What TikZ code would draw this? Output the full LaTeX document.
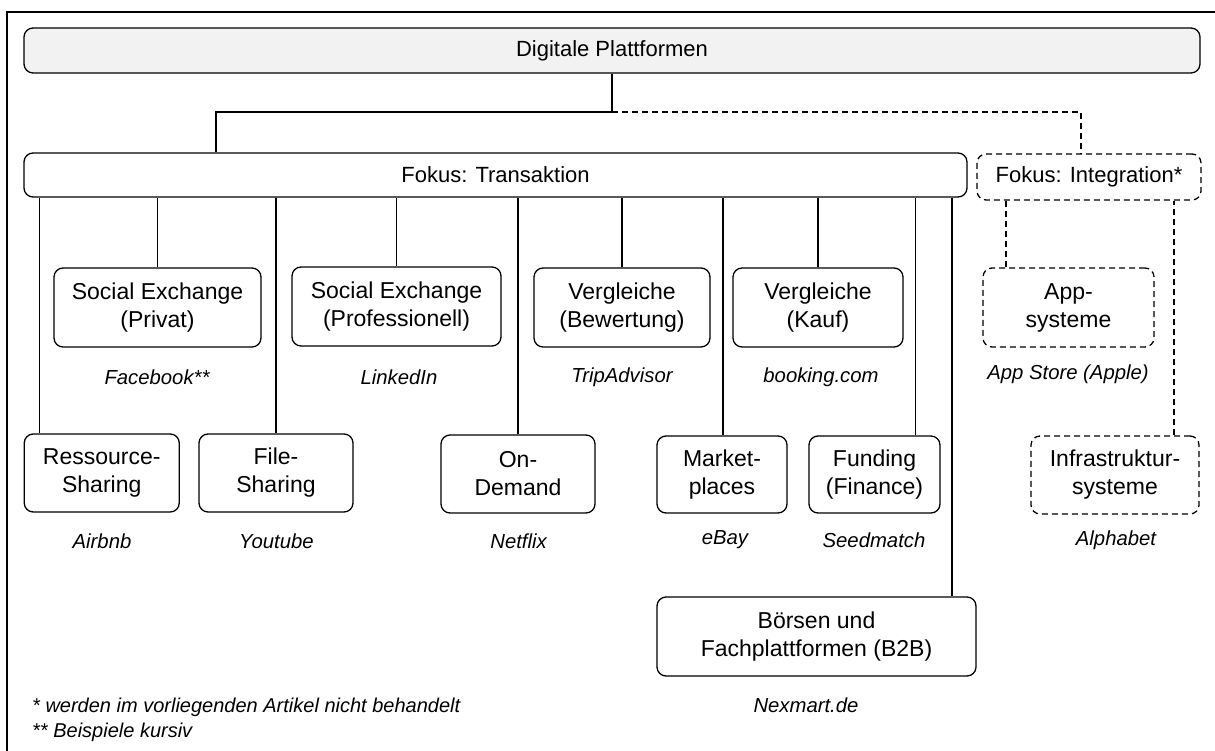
\documentclass[tikz,border=0pt]{standalone}
\usepackage{fontspec}
\setmainfont{Liberation Sans}
\begin{document}
\begin{tikzpicture}[x=1pt,y=-1pt,
  box/.style={draw=black, line width=1.3pt, rounded corners=9pt, fill=white, inner sep=0pt, align=center,
    font=\fontsize{23}{28}\selectfont},
  dbox/.style={box, dash pattern=on 6pt off 4pt},
  topbox/.style={box, fill=gray!10},
  conn/.style={line width=1.2pt},
  dconn/.style={line width=1.2pt, dash pattern=on 6pt off 4pt},
  ex/.style={font=\fontsize{20.3}{24}\selectfont\itshape, inner sep=0pt},
  note/.style={font=\fontsize{20}{24}\selectfont\itshape, inner sep=0pt, anchor=west}]
\useasboundingbox (0,0) rectangle (1215,751);
% frame
\draw[line width=1.5pt] (7,751) -- (7,12) -- (1215,12);

% boxes
\node[topbox, minimum width=1176pt, minimum height=45pt, font=\fontsize{22}{28}\selectfont] (top) at (612,50.5) {Digitale Plattformen};
\node[box, minimum width=943pt, minimum height=44pt, font=\fontsize{22}{28}\selectfont] (ft) at (495.5,175) {Fokus: Transaktion};
\node[dbox, minimum width=224pt, minimum height=46pt, font=\fontsize{22}{28}\selectfont] (fi) at (1089,177) {Fokus: Integration*};

\node[box, minimum width=207pt, minimum height=79pt] (sep) at (157.5,307.5) {Social Exchange\\(Privat)};
\node[box, minimum width=209pt, minimum height=79pt] (sepro) at (396.5,306.5) {Social Exchange\\(Professionell)};
\node[box, minimum width=176pt, minimum height=79pt] (vb) at (622,307.5) {Vergleiche\\(Bewertung)};
\node[box, minimum width=170pt, minimum height=79pt] (vk) at (818,307.5) {Vergleiche\\(Kauf)};
\node[dbox, minimum width=171pt, minimum height=79pt] (app) at (1068.5,307.5) {App-\\systeme};

\node[box, minimum width=155pt, minimum height=78pt] (rs) at (101.75,473) {Ressource-\\Sharing};
\node[box, minimum width=154pt, minimum height=78pt] (fs) at (276,473) {File-\\Sharing};
\node[box, minimum width=154pt, minimum height=78pt] (od) at (518,474) {On-\\Demand};
\node[box, minimum width=130pt, minimum height=77pt] (mp) at (722,474.5) {Market-\\places};
\node[box, minimum width=131pt, minimum height=77pt] (fu) at (874.5,474.5) {Funding\\(Finance)};
\node[dbox, minimum width=168pt, minimum height=78pt] (inf) at (1115,475) {Infrastruktur-\\systeme};
\node[box, minimum width=319pt, minimum height=79pt] (bo) at (816.5,636.5) {Börsen und\\Fachplattformen (B2B)};

% connectors from top
\coordinate (j) at (612,112);
\draw[conn] (top.south -| j) -- (j) -| ([xshift=-279.5pt]ft.north);
\draw[dconn] (j) -| ([xshift=-8pt]fi.north);

% connectors from Fokus Transaktion
\draw[conn] ([xshift=-62.25pt]rs.north) -- ([xshift=-62.25pt]rs.north |- ft.south);
\draw[conn] (sep.north) -- (sep.north |- ft.south);
\draw[conn] (fs.north) -- (fs.north |- ft.south);
\draw[conn] (sepro.north) -- (sepro.north |- ft.south);
\draw[conn] (od.north) -- (od.north |- ft.south);
\draw[conn] (vb.north) -- (vb.north |- ft.south);
\draw[conn] ([xshift=1pt]mp.north) -- ([xshift=1pt]mp.north |- ft.south);
\draw[conn] (vk.north) -- (vk.north |- ft.south);
\draw[conn] ([xshift=41pt]fu.north) -- ([xshift=41pt]fu.north |- ft.south);
\draw[conn] ([xshift=135.5pt]bo.north) -- ([xshift=135.5pt]bo.north |- ft.south);

% connectors from Fokus Integration
\draw[dconn] ([xshift=-62.5pt]app.north) -- ([xshift=-62.5pt]app.north |- fi.south);
\draw[dconn] ([xshift=59pt]inf.north) -- ([xshift=59pt]inf.north |- fi.south);

% examples
\node[ex] (l1) at (157,377) {Facebook**};
\node[ex] (l2) at (399,377) {LinkedIn};
\node[ex] (l3) at (622,377) {TripAdvisor};
\node[ex] (l4) at (821,377) {booking.com};
\node[ex] (l5) at (1068,374) {App Store (Apple)};
\node[ex] (l6) at (102,541) {Airbnb};
\node[ex] (l7) at (276.5,541) {Youtube};
\node[ex] (l8) at (518.6,541) {Netflix};
\node[ex] (l9) at (725,540) {eBay};
\node[ex] (l10) at (874,540) {Seedmatch};
\node[ex] (l11) at (1116,540) {Alphabet};
\node[ex] (l12) at (806,705) {Nexmart.de};

% footnotes
\node[note] (n1) at (32,707) {* werden im vorliegenden Artikel nicht behandelt};
\node[note] (n2) at (32,732) {** Beispiele kursiv};
\end{tikzpicture}
\end{document}
